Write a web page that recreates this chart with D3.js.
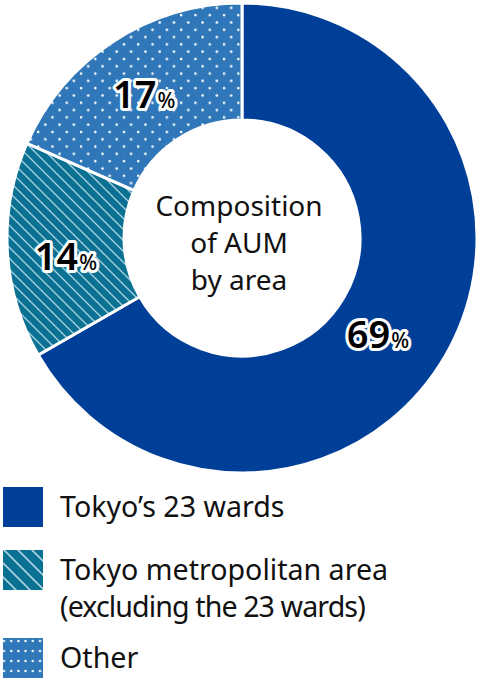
<!DOCTYPE html>
<html><head><meta charset="utf-8">
<script src="https://cdn.jsdelivr.net/npm/d3@7"></script>
<style>
html,body{margin:0;padding:0;background:#fff;}
svg{display:block;font-family:"Noto Sans","Open Sans",sans-serif;}
</style></head>
<body>
<svg id="chart" width="484" height="680"></svg>
<script>
const categories = ["Tokyo’s 23 wards", "Tokyo metropolitan area\n(excluding the 23 wards)", "Other"];
const values = [66.7, 14.9, 18.4];
const labels = ["69", "14", "17"];
const colors = ["#003f98", "#0b7193", "#2f77b8"];
const centerTitle = ["Composition", "of AUM", "by area"];

const svg = d3.select("#chart");
const defs = svg.append("defs");

function hatch(id, size, w) {
  const p = defs.append("pattern").attr("id", id).attr("patternUnits", "userSpaceOnUse")
    .attr("width", size).attr("height", size);
  p.append("rect").attr("width", size).attr("height", size).attr("fill", colors[1]);
  p.append("path").attr("d", `M0,0L${size},${size}M${-size},0L${size},${2*size}M0,${-size}L${2*size},${size}`)
    .attr("stroke", "#a9d3e3").attr("stroke-width", w);
}
hatch("hatchPie", 11, 1.3);
hatch("hatchLeg", 14, 1.6);

const pd = defs.append("pattern").attr("id", "dotsPie").attr("patternUnits", "userSpaceOnUse")
  .attr("width", 14.3).attr("height", 14.6);
pd.append("rect").attr("width", 14.3).attr("height", 14.6).attr("fill", colors[2]);
pd.append("circle").attr("cx", 3.5).attr("cy", 3.5).attr("r", 1.3).attr("fill", "#fff");
pd.append("circle").attr("cx", 10.65).attr("cy", 10.8).attr("r", 1.3).attr("fill", "#fff");
const ld = defs.append("pattern").attr("id", "dotsLeg").attr("patternUnits", "userSpaceOnUse")
  .attr("x", 0).attr("y", 638).attr("width", 7.2).attr("height", 10);
ld.append("rect").attr("width", 7.2).attr("height", 10).attr("fill", colors[2]);
ld.append("circle").attr("cx", 4).attr("cy", 3).attr("r", 1.2).attr("fill", "#fff");

const pieFills = ["", "url(#hatchPie)", "url(#dotsPie)"];
const legFills = ["", "url(#hatchLeg)", "url(#dotsLeg)"];

const cx = 242, cy = 238, R = 235, r = 118;
const g = svg.append("g").attr("transform", `translate(${cx},${cy})`);
const pie = d3.pie().sort(null).value(d => d)(values);
const arc = d3.arc().innerRadius(r).outerRadius(R);
g.selectAll("path.slice").data(pie).join("path").attr("class", "slice")
  .attr("d", arc)
  .attr("fill", (d, i) => pieFills[i] || colors[i])
  .attr("stroke", "#fff").attr("stroke-width", 3);

// label placement (layout only)
const labelR = [166.5, 177, 174];
const labelShift = [5.2, -2.7, -1.1].map(v => v * Math.PI / 180);
const lab = g.selectAll("text.lab").data(pie).join("text").attr("class", "lab")
  .attr("transform", (d, i) => {
    const a = (d.startAngle + d.endAngle) / 2 + labelShift[i];
    return `translate(${labelR[i] * Math.sin(a)},${-labelR[i] * Math.cos(a) + 14})`;
  })
  .attr("text-anchor", "middle")
  .attr("paint-order", "stroke")
  .attr("stroke", "#fff").attr("stroke-width", 6).attr("stroke-linejoin", "round")
  .attr("fill", "#000");
lab.append("tspan").attr("font-size", 38).attr("font-weight", 600).text((d, i) => labels[i]);
lab.append("tspan").attr("font-size", 21).attr("font-weight", 500).attr("dx", 1).text("%");

g.append("text").attr("text-anchor", "middle").attr("font-size", 28).attr("fill", "#111")
  .selectAll("tspan").data(centerTitle).join("tspan")
  .attr("x", -3).attr("y", (d, i) => -22 + i * 37).text(d => d);

const legY = [487, 550, 638];
const lg = svg.append("g");
categories.forEach((c, i) => {
  lg.append("rect").attr("x", 3).attr("y", legY[i]).attr("width", 40).attr("height", 40)
    .attr("fill", legFills[i] || colors[i]);
  const t = lg.append("text").attr("font-size", 28.6).attr("fill", "#111");
  c.split("\n").forEach((line, j) => {
    t.append("tspan").attr("x", 60).attr("y", legY[i] + 30 + j * 37)
      .attr("letter-spacing", j > 0 ? -0.9 : 0).text(line);
  });
});
</script>
</body></html>
